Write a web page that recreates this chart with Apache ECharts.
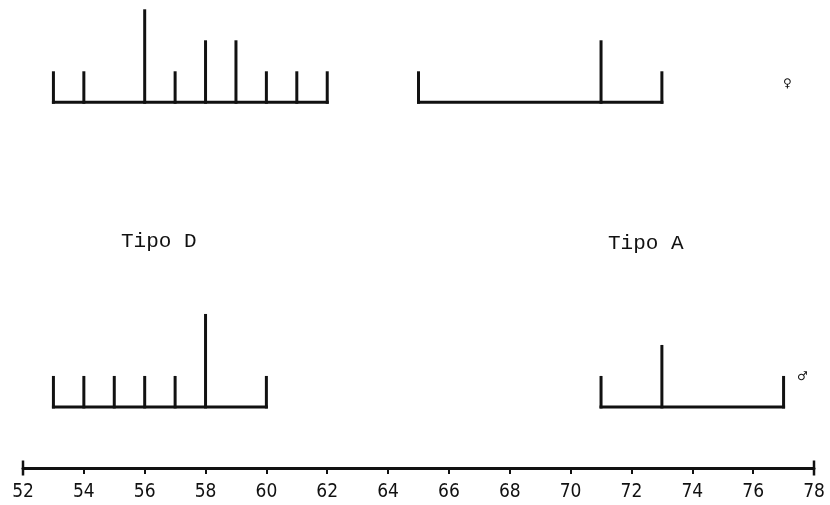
<!DOCTYPE html>
<html><head><meta charset="utf-8">
<script src="https://cdn.jsdelivr.net/npm/echarts@6/dist/echarts.min.js"></script>
<style>html,body{margin:0;padding:0;background:#fff}#c{width:830px;height:505px}</style>
</head><body><div id="c"></div>
<script>
// Data
const axisMin = 52, axisMax = 78, axisStep = 2;
const femaleD_values = [53, 54, 56, 57, 58, 59, 60, 61, 62];
const femaleD_counts = [1, 1, 3, 1, 2, 2, 1, 1, 1];
const femaleA_values = [65, 71, 73];
const femaleA_counts = [1, 2, 1];
const maleD_values = [53, 54, 55, 56, 57, 58, 60];
const maleD_counts = [1, 1, 1, 1, 1, 3, 1];
const maleA_values = [71, 73, 77];
const maleA_counts = [1, 2, 1];
const typeLabels = ['Tipo D', 'Tipo A'];
const sexLabels = ['\u2640', '\u2642'];

// layout (row baselines in y-axis units)
const femaleBase = 11.8, maleBase = 1.97;

const groups = [
  {v: femaleD_values, c: femaleD_counts, base: femaleBase},
  {v: femaleA_values, c: femaleA_counts, base: femaleBase},
  {v: maleD_values, c: maleD_counts, base: maleBase},
  {v: maleA_values, c: maleA_counts, base: maleBase}
];
const spikes = [], baselines = [];
groups.forEach(g => {
  g.v.forEach((x, i) => spikes.push([x, g.c[i], g.base]));
  baselines.push([Math.min(...g.v), Math.max(...g.v), g.base]);
});

const ink = '#111';
const chart = echarts.init(document.getElementById('c'));
chart.setOption({
  animation: false,
  grid: {left: 23, right: 16, top: 0, bottom: 37},
  xAxis: {
    type: 'value', min: axisMin, max: axisMax, interval: axisStep,
    axisLine: {lineStyle: {color: ink, width: 3}, symbol: ['rect', 'rect'], symbolSize: [15, 2.5]},
    axisTick: {show: true, length: 6, lineStyle: {color: ink, width: 2}},
    axisLabel: {color: ink, fontSize: 19, margin: 15, fontFamily: 'Liberation Sans Narrow, DejaVu Sans Condensed, Liberation Sans, sans-serif'},
    splitLine: {show: false}
  },
  yAxis: {type: 'value', min: 0, max: 15.1, show: false},
  series: [
    {
      type: 'custom', data: baselines,
      renderItem: (params, api) => {
        const a = api.coord([api.value(0), api.value(2)]);
        const b = api.coord([api.value(1), api.value(2)]);
        return {type: 'line', shape: {x1: a[0] - 1.5, y1: a[1], x2: b[0] + 1.5, y2: b[1]}, style: {stroke: ink, lineWidth: 3}};
      }
    },
    {
      type: 'custom', data: spikes,
      renderItem: (params, api) => {
        const base = api.value(2);
        const a = api.coord([api.value(0), base]);
        const b = api.coord([api.value(0), base + api.value(1)]);
        return {type: 'line', shape: {x1: a[0], y1: a[1] + 1.5, x2: b[0], y2: b[1]}, style: {stroke: ink, lineWidth: 3}};
      }
    }
  ],
  graphic: [
    {type: 'text', left: 121, top: 231, style: {text: typeLabels[0], fill: ink, font: '21px "Liberation Mono", monospace'}},
    {type: 'text', left: 608, top: 233, style: {text: typeLabels[1], fill: ink, font: '21px "Liberation Mono", monospace'}},
    {type: 'text', left: 783, top: 78, style: {text: sexLabels[0], fill: ink, font: '12px "DejaVu Sans", sans-serif'}},
    {type: 'text', left: 797, top: 371, style: {text: sexLabels[1], fill: ink, font: '12px "DejaVu Sans", sans-serif'}}
  ]
});
</script></body></html>
